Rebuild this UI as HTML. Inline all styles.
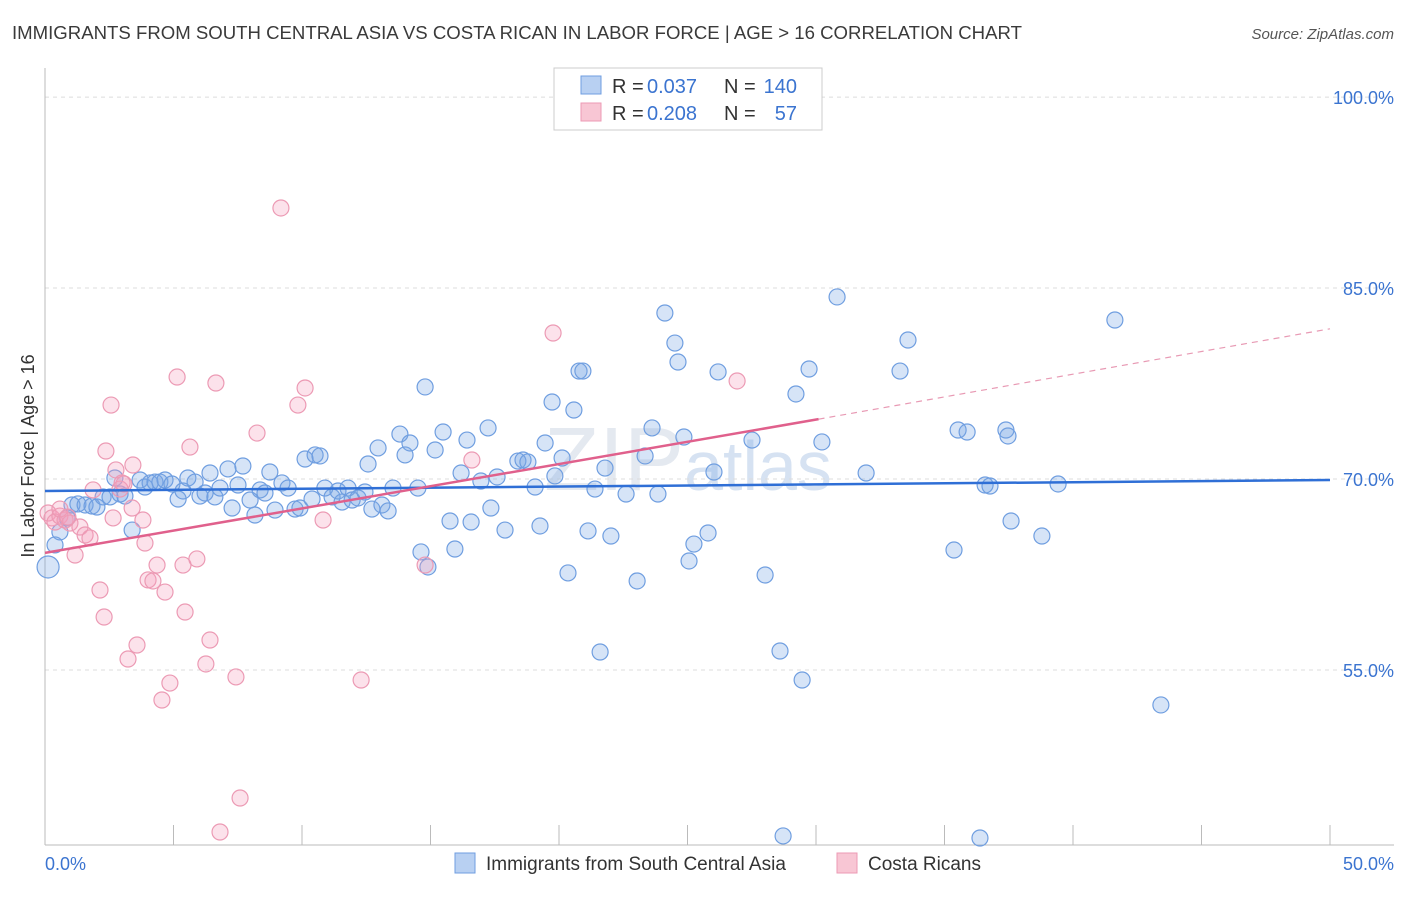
<!DOCTYPE html>
<html><head><meta charset="utf-8"><style>
body{margin:0;background:#fff;font-family:"Liberation Sans",sans-serif;}
svg text{font-family:"Liberation Sans",sans-serif;}
</style></head><body>
<svg id="chart" width="1406" height="892" viewBox="0 0 1406 892" xmlns="http://www.w3.org/2000/svg">
<text x="12" y="39" font-size="18.6" fill="#3a3a3a">IMMIGRANTS FROM SOUTH CENTRAL ASIA VS COSTA RICAN IN LABOR FORCE | AGE &gt; 16 CORRELATION CHART</text>
<text x="1394" y="39" font-size="15" font-style="italic" fill="#555" text-anchor="end">Source: ZipAtlas.com</text>
<text x="688" y="490" font-size="90" fill="#e4e9f0" text-anchor="middle" font-family="Liberation Serif">ZIP<tspan font-family="Liberation Sans" font-size="70" fill="#d6e2f2">atlas</tspan></text>
<g id="grid"></g>
<g id="axes"></g>
<g id="pts"></g>
<g id="trends"></g>
<text transform="translate(34,456) rotate(-90)" font-size="18" fill="#333" text-anchor="middle">In Labor Force | Age &gt; 16</text>
<g>
<rect x="554" y="68" width="268" height="62" fill="#fff" stroke="#ccc"/>
<rect x="581" y="76" width="20" height="18" fill="#b8d0f2" stroke="#6f9ee0"/>
<rect x="581" y="103" width="20" height="18" fill="#f8c6d4" stroke="#ec9ab4"/>
<text x="612" y="93" font-size="20" fill="#333">R =</text>
<text x="647" y="93" font-size="20" fill="#3b74d0">0.037</text>
<text x="724" y="93" font-size="20" fill="#333">N =</text>
<text x="797" y="93" font-size="20" fill="#3b74d0" text-anchor="end">140</text>
<text x="612" y="120" font-size="20" fill="#333">R =</text>
<text x="647" y="120" font-size="20" fill="#3b74d0">0.208</text>
<text x="724" y="120" font-size="20" fill="#333">N =</text>
<text x="797" y="120" font-size="20" fill="#3b74d0" text-anchor="end">57</text>
</g>
<g>
<rect x="455" y="853" width="20" height="20" fill="#b8d0f2" stroke="#6f9ee0"/>
<text x="486" y="870" font-size="19" fill="#333">Immigrants from South Central Asia</text>
<rect x="837" y="853" width="20" height="20" fill="#f8c6d4" stroke="#ec9ab4"/>
<text x="868" y="870" font-size="19" fill="#333">Costa Ricans</text>
</g>
<text x="45" y="870" font-size="18" fill="#3b74d0">0.0%</text>
<text x="1394" y="870" font-size="18" fill="#3b74d0" text-anchor="end">50.0%</text>
</svg>
<script>
const yTicks=[100,85,70,55];
const xTickVals=[0,5,10,15,20,25,30,35,40,45,50];
const blueX=[0.12,0.39,0.58,0.86,1.05,1.28,1.56,1.83,2.02,2.26,2.53,2.72,2.92,3.11,3.39,3.70,3.89,4.09,4.28,4.47,4.67,4.94,5.18,5.37,5.56,5.84,6.03,6.23,6.42,6.61,6.81,7.12,7.28,7.51,7.70,7.98,8.17,8.37,8.56,8.75,8.95,9.22,9.46,9.73,9.92,10.12,10.39,10.51,10.70,10.89,11.17,11.40,11.56,11.79,11.95,12.18,12.45,12.57,12.72,12.96,13.11,13.35,13.54,13.81,14.01,14.20,14.51,14.63,14.79,14.90,15.18,15.49,15.76,15.95,16.19,16.42,16.58,16.96,17.24,17.35,17.59,17.90,18.40,18.60,18.79,19.07,19.26,19.46,19.73,19.84,20.12,20.35,20.58,20.78,20.93,21.13,21.40,21.60,21.79,22.02,22.61,23.04,23.35,23.62,23.85,24.12,24.51,24.63,24.86,25.06,25.25,25.80,26.03,26.19,27.51,28.02,28.60,28.72,29.22,29.46,29.73,30.23,30.82,31.95,33.27,33.58,35.37,35.53,35.88,36.38,36.58,36.77,37.39,37.47,37.59,38.79,39.42,41.63,43.42];
const blueY=[63.09,64.82,65.84,66.94,67.96,68.04,67.96,67.88,67.80,68.59,68.59,70.08,68.82,68.66,65.99,69.92,69.37,69.69,69.76,69.76,69.92,69.61,68.43,69.06,70.08,69.76,68.66,68.90,70.47,68.59,69.29,70.79,67.72,69.53,71.02,68.35,67.17,69.14,68.90,70.55,67.56,69.69,69.29,67.64,67.72,71.57,68.43,71.89,71.81,69.29,68.59,69.06,68.19,69.29,68.35,68.51,68.98,71.18,67.64,72.44,67.96,67.49,69.29,73.53,71.89,72.83,69.29,64.27,77.23,63.09,72.28,73.69,66.70,64.50,70.47,73.06,66.62,69.84,74.01,67.72,70.16,65.99,71.41,71.49,71.34,69.37,66.31,72.83,76.05,70.24,71.65,62.62,75.42,78.48,78.48,65.92,69.21,56.41,70.86,65.52,68.82,61.99,71.81,74.01,68.82,83.04,80.68,79.19,73.30,63.56,64.89,65.76,70.55,78.41,73.06,62.46,56.49,41.96,76.68,54.21,78.64,72.91,84.30,70.47,78.48,80.92,64.42,73.85,73.69,41.80,69.53,69.45,73.85,73.38,66.70,65.52,69.61,82.49,52.25];
const pinkX=[0.12,0.27,0.39,0.58,0.78,0.97,1.17,1.36,1.56,1.75,1.87,2.14,2.30,2.37,2.57,2.65,2.76,2.92,3.07,3.23,3.39,3.42,3.58,3.81,3.89,4.01,4.20,4.36,4.67,4.86,4.55,5.14,5.37,5.45,5.64,5.91,6.26,6.42,6.65,7.43,7.59,6.81,8.25,9.18,9.84,10.12,10.82,12.30,14.79,16.61,19.77,26.93,0.58,0.89,3.00];
const pinkY=[67.33,66.94,66.62,67.09,66.78,66.54,64.03,66.23,65.60,65.37,69.14,61.28,59.16,72.20,75.81,66.94,70.71,69.21,69.61,55.86,67.72,71.10,56.96,66.78,64.97,62.07,61.99,63.24,61.12,53.97,52.64,78.01,63.24,59.55,72.51,63.72,55.47,57.35,77.54,54.45,44.94,42.27,73.61,91.29,75.81,77.15,66.78,54.21,63.24,71.49,81.47,77.70,67.64,67.01,69.69];
const X=v=>45+v*25.7, Y=v=>479-(v-70)*12.73;
const NS="http://www.w3.org/2000/svg";
function mk(tag,attrs,parent){const e=document.createElementNS(NS,tag);for(const k in attrs)e.setAttribute(k,attrs[k]);parent.appendChild(e);return e;}
const grid=document.getElementById('grid'),axes=document.getElementById('axes'),pts=document.getElementById('pts'),tr=document.getElementById('trends');
yTicks.forEach(t=>{
 const l=mk('line',{x1:45,x2:1394,y1:Y(t),y2:Y(t),stroke:'#dcdcdc','stroke-dasharray':'4,4'},grid);
 
 
 const tx=mk('text',{x:1394,y:Y(t)+7,'font-size':18,fill:'#3b74d0','text-anchor':'end'},grid);
 tx.textContent=t.toFixed(1)+'%';
 
 
});
const ya=mk('line',{x1:45,x2:45,y1:68,y2:845,stroke:'#bbb'},axes);


const xa=mk('line',{x1:45,x2:1394,y1:845,y2:845,stroke:'#bbb'},axes);


xTickVals.forEach(t=>{
 const l=mk('line',{x1:X(t),x2:X(t),y1:825,y2:845,stroke:'#bbb'},axes);
 
 
});
blueX.forEach((v,i)=>{
 const c=mk('circle',{cx:X(v),cy:Y(blueY[i]),r:i===0?11:8,fill:'rgba(120,165,230,0.3)',stroke:'#6f9ee0','stroke-width':1.2},pts);
 
 
});
pinkX.forEach((v,i)=>{
 const c=mk('circle',{cx:X(v),cy:Y(pinkY[i]),r:8,fill:'rgba(245,160,190,0.3)',stroke:'#ec9ab4','stroke-width':1.2},pts);
 
 
});
const bt=mk('line',{x1:X(0),y1:Y(69.06),x2:X(50),y2:Y(69.92),stroke:'#2f6fd6','stroke-width':2.5},tr);


const pt=mk('line',{x1:X(0),y1:Y(64.2),x2:X(30.1),y2:Y(74.7),stroke:'#e0608c','stroke-width':2.5},tr);


const pd=mk('line',{x1:X(30.1),y1:Y(74.7),x2:X(50),y2:Y(81.8),stroke:'#e89ab4','stroke-width':1.2,'stroke-dasharray':'6,5'},tr);


</script>
</body></html>
